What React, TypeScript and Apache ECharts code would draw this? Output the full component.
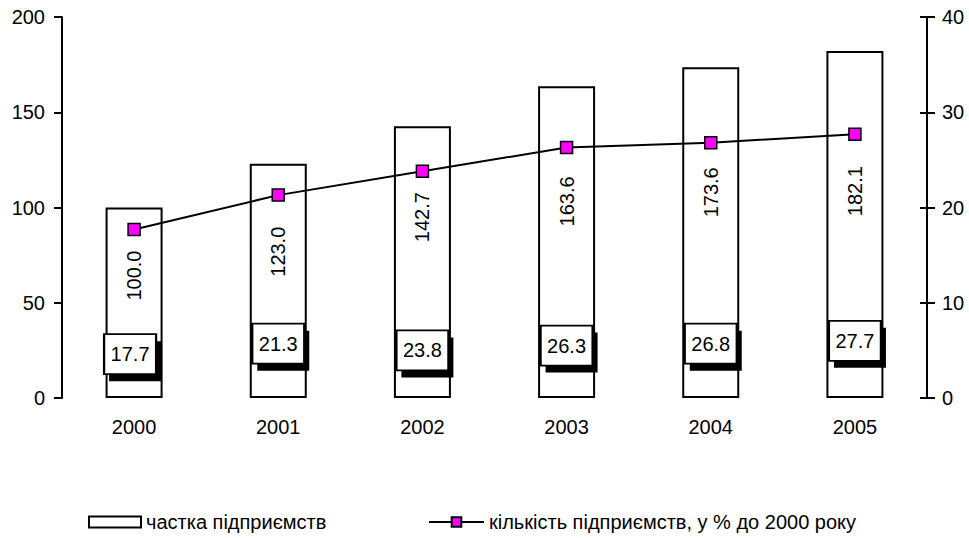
import React, { useEffect, useRef } from "react";
import * as echarts from "echarts";

const years = ["2000", "2001", "2002", "2003", "2004", "2005"];
const shareValues = [100.0, 123.0, 142.7, 163.6, 173.6, 182.1];
const countValues = [17.7, 21.3, 23.8, 26.3, 26.8, 27.7];
// right-axis level at which each value box of the line series sits
const countLabelLevel = [4.6, 5.7, 5.0, 5.5, 5.7, 6.0];
const leftTicks = { min: 0, max: 200, interval: 50 };
const rightTicks = { min: 0, max: 40, interval: 10 };
const seriesNames = ["частка підприємств", "кількість підприємств, у % до 2000 року"];

const FONT = "'Liberation Sans', Arial, sans-serif";
const FS = 20;

export default function App() {
  const ref = useRef<HTMLDivElement>(null);
  useEffect(() => {
    if (!ref.current) return;
    const chart = echarts.init(ref.current, null, { renderer: "svg" });
    const axisLine = { show: true, lineStyle: { color: "#000", width: 2 } };
    // label layout (gap from bar top to rotated value text)
    const barLabelGap = [43, 63, 66, 90, 100, 115];
    const boxShiftX = [-4, 0, 0, 0, 0, 0];
    const boxSize = [52, 40];
    chart.setOption({
      animation: false,
      backgroundColor: "#fff",
      textStyle: { fontFamily: FONT, color: "#000" },
      grid: { left: 62, right: 42, top: 17, bottom: 140, containLabel: false },
      legend: [
        {
          left: 88,
          top: 512,
          padding: 0,
          itemWidth: 52,
          itemHeight: 11,
          textStyle: { fontFamily: FONT, fontSize: FS, color: "#000" },
          data: [
            { name: seriesNames[0], icon: "rect", itemStyle: { color: "#fff", borderColor: "#000", borderWidth: 2 } },
          ],
        },
        {
          left: 428,
          top: 512,
          padding: 0,
          itemWidth: 55,
          itemHeight: 12,
          textStyle: { fontFamily: FONT, fontSize: FS, color: "#000" },
          data: [{ name: seriesNames[1] }],
        },
      ],
      xAxis: {
        type: "category",
        data: years,
        axisLine: { show: false },
        axisTick: { show: false },
        axisLabel: { fontFamily: FONT, fontSize: FS, color: "#000", margin: 19 },
      },
      yAxis: [
        {
          type: "value",
          position: "left",
          ...leftTicks,
          axisLine,
          axisTick: { show: true, length: 8, lineStyle: { color: "#000", width: 2 } },
          axisLabel: { fontFamily: FONT, fontSize: FS, color: "#000", margin: 17 },
          splitLine: { show: false },
        },
        {
          type: "value",
          position: "right",
          ...rightTicks,
          axisLine,
          axisTick: { show: true, length: 8, lineStyle: { color: "#000", width: 2 } },
          axisLabel: { fontFamily: FONT, fontSize: FS, color: "#000", margin: 15 },
          splitLine: { show: false },
        },
        {
          type: "value",
          position: "right",
          ...rightTicks,
          axisLine: { show: false },
          axisTick: { show: true, inside: true, length: 7, lineStyle: { color: "#000", width: 2 } },
          axisLabel: { show: false },
          splitLine: { show: false },
        },
      ],
      series: [
        {
          name: seriesNames[0],
          type: "bar",
          yAxisIndex: 0,
          data: shareValues.map((v, i) => ({ value: v, label: { distance: barLabelGap[i] } })),
          barWidth: 57,
          itemStyle: { color: "#fff", borderColor: "#000", borderWidth: 2 },
          label: {
            show: true,
            position: "insideTop",
            rotate: 90,
            align: "right",
            verticalAlign: "middle",
            fontFamily: FONT,
            fontSize: FS,
            color: "#000",
            formatter: (p: any) => Number(p.value).toFixed(1),
          },
          z: 1,
        },
        {
          name: seriesNames[1],
          type: "line",
          yAxisIndex: 1,
          data: countValues,
          symbol: "rect",
          symbolSize: 12,
          lineStyle: { color: "#000", width: 2 },
          itemStyle: { color: "#ff00ff", borderColor: "#000", borderWidth: 1.5 },
          z: 3,
        },
        {
          name: "labelShadow",
          type: "scatter",
          yAxisIndex: 1,
          data: countLabelLevel.map((v, i) => ({ value: v, symbolOffset: [boxShiftX[i] + 5, 7] })),
          symbol: "rect",
          symbolSize: boxSize,
          silent: true,
          emphasis: { disabled: true },
          itemStyle: { color: "#000", opacity: 1 },
          z: 4,
        },
        {
          name: "labelBox",
          type: "scatter",
          yAxisIndex: 1,
          data: countLabelLevel.map((v, i) => ({ value: v, symbolOffset: [boxShiftX[i], 0] })),
          symbol: "rect",
          symbolSize: boxSize,
          silent: true,
          emphasis: { disabled: true },
          itemStyle: { color: "#fff", borderColor: "#000", borderWidth: 2, opacity: 1 },
          label: {
            show: true,
            position: "inside",
            formatter: (p: any) => countValues[p.dataIndex].toFixed(1),
            fontFamily: FONT,
            fontSize: FS,
            color: "#000",
          },
          z: 5,
        },
      ],
    });
    return () => chart.dispose();
  }, []);
  return <div ref={ref} style={{ width: 969, height: 538, position: "absolute", left: 0, top: 0 }} />;
}
